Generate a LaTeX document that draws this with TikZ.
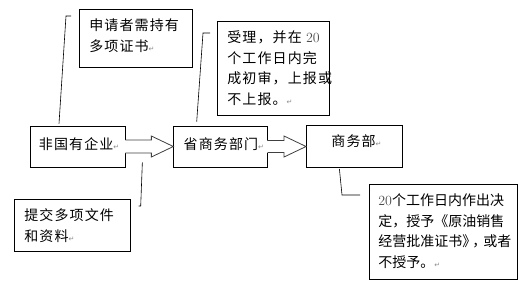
\documentclass[tikz,border=0pt]{standalone}
\usepackage{fontspec}
\newfontfamily\cjkfont[LetterSpace=8]{Noto Sans CJK SC}
\newfontfamily\cjktight{Noto Sans CJK SC}
\newfontfamily\markfont{DejaVu Sans}
\usetikzlibrary{positioning, calc}

% paragraph mark and grey digits as Word prints them
\newcommand{\retmark}{{\markfont\fontsize{7}{7}\selectfont\color{black!45}↵}}
\newcommand{\numtxt}[1]{{\rmfamily\color{black!70}#1}}
% text block of fixed size, text set from the top left
\newcommand{\boxtext}[4][10pt]{\parbox[c][#3][t]{#2}{\raggedright\leftskip=#1\relax\vspace*{9.5pt}#4}}

\begin{document}
\begin{tikzpicture}[
    x=1pt, y=-1pt,
    box/.style={
        draw,
        line width=0.7pt,
        fill=white,
        inner sep=0pt,
        font=\cjkfont\fontsize{14}{20.5}\selectfont
    },
    callout/.style={
        draw,
        line width=0.6pt
    },
    blockarrow/.style={
        draw=black!75,
        line width=0.8pt,
        line join=miter
    }
]
    \useasboundingbox (0,0) rectangle (527,293);

    % Main chain
    \node[box] (qiye) at (77.5,146.5) {\boxtext[9pt]{95pt}{41pt}{\vspace*{2.5pt}非国有企业\retmark}};
    \node[box, right=48pt of qiye] (sheng) {\boxtext{94pt}{41pt}{\vspace*{2.5pt}省商务部门\retmark}};
    \node[box, right=38pt of sheng] (bu) {\boxtext[25pt]{96pt}{42pt}{商务部\retmark}};

    % Callout boxes
    \node[box, anchor=north west] (shenqing) at (79,9) {\boxtext{113pt}{58pt}{申请者需持有\\多项证书\retmark}};
    \node[box, anchor=north west] (shouli) at (217,21) {\boxtext{112pt}{94pt}{受理，并在 \numtxt{20}\\个工作日内完\\成初审，上报或\\不上报。\retmark}};
    \node[box, anchor=north west] (tijiao) at (14,199) {\boxtext{116pt}{52pt}{提交多项文件\\和资料\retmark}};
    \node[box, anchor=north west] (jueding) at (369,184) {\boxtext[9pt]{148pt}{95pt}{\cjktight\numtxt{20}个工作日内作出决\\定，授予《原油销售\\经营批准证书》\kern-4pt，\kern-3pt 或者\\不授予。\retmark}};

    % Hollow arrows
    \fill[white] ($(qiye.east)+(-1.5,-6.5)$) -- ($(sheng.west)+(-22,-6.5)$) -- ($(sheng.west)+(-22,-10.5)$) -- (sheng.west) -- ($(sheng.west)+(-22,10.5)$) -- ($(sheng.west)+(-22,6.5)$) -- ($(qiye.east)+(-1.5,6.5)$) -- cycle;
    \draw[blockarrow] ($(qiye.east)+(0,-6.5)$) -- ($(sheng.west)+(-22,-6.5)$) -- ($(sheng.west)+(-22,-10.5)$) -- (sheng.west) -- ($(sheng.west)+(-22,10.5)$) -- ($(sheng.west)+(-22,6.5)$) -- ($(qiye.east)+(0,6.5)$);

    \fill[white] ($(sheng.east)+(-1.5,-6)$) -- ($(bu.west)+(-22,-6)$) -- ($(bu.west)+(-22,-10.5)$) -- (bu.west) -- ($(bu.west)+(-22,10.5)$) -- ($(bu.west)+(-22,6)$) -- ($(sheng.east)+(-1.5,6)$) -- cycle;
    \draw[blockarrow] ($(sheng.east)+(0,-6)$) -- ($(bu.west)+(-22,-6)$) -- ($(bu.west)+(-22,-10.5)$) -- (bu.west) -- ($(bu.west)+(-22,10.5)$) -- ($(bu.west)+(-22,6)$) -- ($(sheng.east)+(0,6)$);

    % Callout lines
    \draw[callout] ($(shenqing.north west)+(-8,7)$) -- ++(-5,0) -- ($(qiye.north)+(-18.5,-2)$);
    \draw[callout] ($(shouli.north west)+(-7,12)$) -- ++(-7,0) -- ($(sheng.north)+(-24,-4)$);
    \draw[callout] ($(tijiao.north east)+(8,7)$) -- ++(2,0) -- ($(qiye.south east)+(17,-5)$);
    \draw[callout] ($(jueding.north west)+(-9,11)$) -- ++(-18,0) -- ($(bu.south)+(-15,1)$);

\end{tikzpicture}
\end{document}
